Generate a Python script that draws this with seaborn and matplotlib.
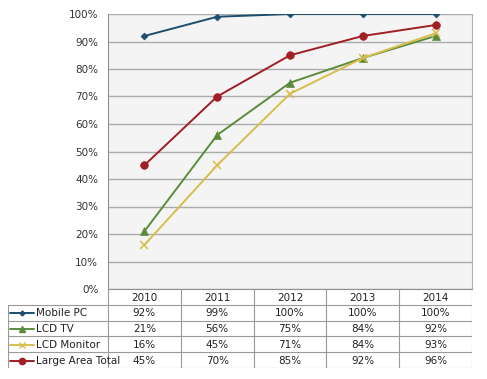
import numpy as np
import pandas as pd
import matplotlib
matplotlib.use("Agg")
import matplotlib.pyplot as plt
import seaborn as sns

years = ["2010", "2011", "2012", "2013", "2014"]
series_names = ["Mobile PC", "LCD TV", "LCD Monitor", "Large Area Total"]
mobile_pc = [92, 99, 100, 100, 100]
lcd_tv = [21, 56, 75, 84, 92]
lcd_monitor = [16, 45, 71, 84, 93]
large_area = [45, 70, 85, 92, 96]

colors = ["#1d4e6e", "#5b8c3c", "#d8bd4c", "#a01e24"]
markers = ["D", "^", "x", "o"]
msizes = [3.5, 5.5, 5.5, 5.5]

sns.set_style("white")
plt.rcParams["font.family"] = ["DejaVu Sans"]

values = [mobile_pc, lcd_tv, lcd_monitor, large_area]
rows = []
for name, vals in zip(series_names, values):
    for i, v in enumerate(vals):
        rows.append({"series": name, "x": i, "value": v / 100})
df = pd.DataFrame(rows)

W, H = 487, 379
fig = plt.figure(figsize=(W / 100, H / 100), dpi=100)
fig.patch.set_facecolor("white")

# main plot area
ax = fig.add_axes([108 / W, 1 - 289 / H, (472 - 108) / W, (289 - 14) / H])
ax.set_facecolor("#f4f4f4")
for name, c, m, ms in zip(series_names, colors, markers, msizes):
    d = df[df["series"] == name]
    sns.lineplot(data=d, x="x", y="value", ax=ax, color=c, marker=m,
                 markersize=ms, linewidth=1.4, markeredgecolor=c,
                 markeredgewidth=1.1 if m == "x" else 0.5, legend=False)
ax.set_xlim(-0.5, 4.5)
ax.set_ylim(0, 1.0)
ax.set_yticks(np.arange(0, 1.01, 0.1))
ax.set_yticklabels([f"{int(round(t * 100))}%" for t in np.arange(0, 1.01, 0.1)],
                   fontsize=7.5, color="#333333")
ax.set_xticks([])
ax.set_xlabel("")
ax.set_ylabel("")
ax.yaxis.grid(True, color="#ababab", linewidth=1.0)
ax.set_axisbelow(True)
ax.tick_params(axis="y", length=3, color="#888888", pad=4)
ax.spines["top"].set_visible(False)
ax.spines["left"].set_color("#909090")
ax.spines["right"].set_color("#b0b0b0")
ax.spines["bottom"].set_color("#909090")

# data table below
tx0, tx1 = 8, 472
ty0, ty1 = 289, 368
tab = fig.add_axes([tx0 / W, 1 - ty1 / H, (tx1 - tx0) / W, (ty1 - ty0) / H])
unit = (472 - 108) / 5
xl = -0.5 - (108 - tx0) / unit
tab.set_xlim(xl, 4.5)
tab.set_ylim(5, 0)
tab.axis("off")

lc = "#9a9a9a"
for xv in np.arange(-0.5, 4.6, 1):
    tab.plot([xv, xv], [0, 5], color=lc, linewidth=0.8)
tab.plot([xl, xl], [1, 5], color=lc, linewidth=0.8)
for yv in range(1, 6):
    tab.plot([xl, 4.5], [yv, yv], color=lc, linewidth=0.8)

for i, yr in enumerate(years):
    tab.text(i, 0.55, yr, ha="center", va="center", fontsize=7.5, color="#222222")

for r, (name, vals, c, m, ms) in enumerate(zip(series_names, values, colors, markers, msizes)):
    yc = r + 1.55
    tab.plot([xl + 0.03, xl + 0.36], [yc, yc], color=c, linewidth=1.4)
    tab.plot([xl + 0.195], [yc], marker=m, color=c, markersize=ms - 1,
             markeredgecolor=c, linestyle="none")
    tab.text(xl + 0.38, yc, name, ha="left", va="center", fontsize=7.5, color="#222222")
    for i, v in enumerate(vals):
        tab.text(i, yc, f"{v}%", ha="center", va="center", fontsize=7.5, color="#222222")

fig.savefig("out.png", dpi=100)
